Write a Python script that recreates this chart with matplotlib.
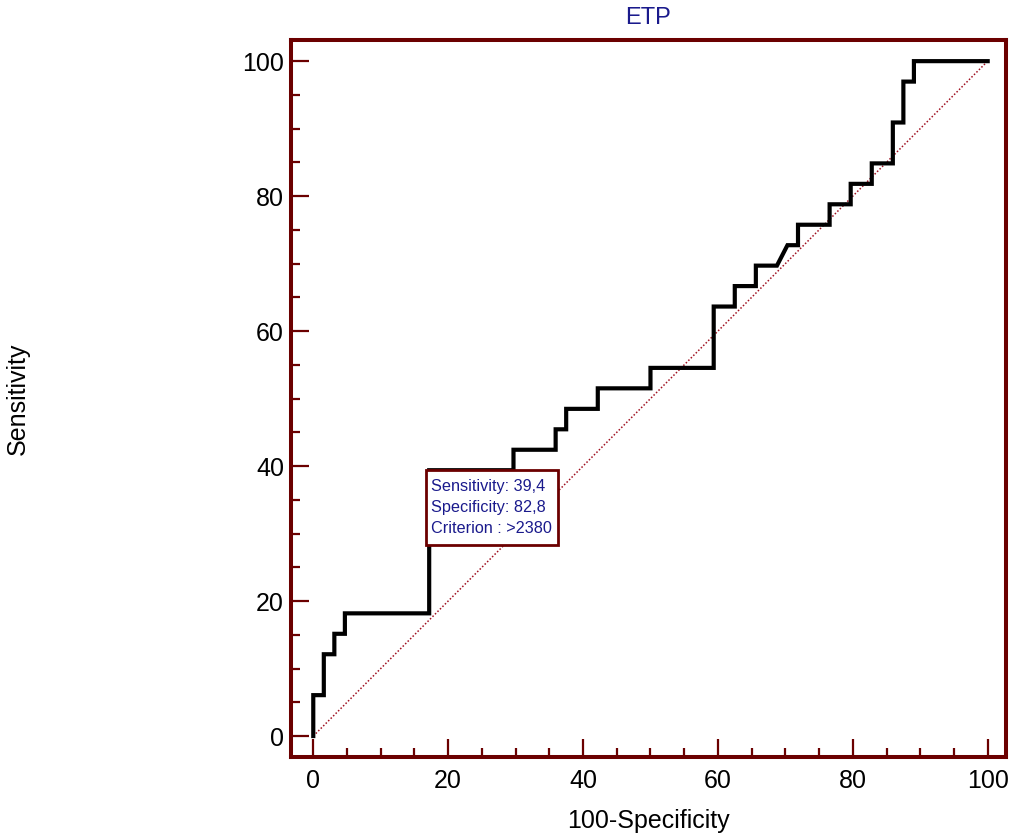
import matplotlib
matplotlib.use("Agg")
import matplotlib.pyplot as plt
from matplotlib.ticker import MultipleLocator
from matplotlib.offsetbox import TextArea, AnnotationBbox, VPacker, DrawingArea

plt.rcParams['font.family'] = ['Liberation Sans', 'DejaVu Sans']

# ROC curve data (100-Specificity, Sensitivity)
roc_x = [0, 0, 1.5625, 1.5625, 3.125, 3.125, 4.6875, 4.6875, 17.1875, 17.1875,
         29.6875, 29.6875, 35.9375, 35.9375, 37.5, 37.5, 42.1875, 42.1875,
         50.0, 50.0, 59.375, 59.375, 62.5, 62.5, 65.625, 65.625, 68.75, 70.3125,
         71.875, 71.875, 76.5625, 76.5625, 79.6875, 79.6875, 82.8125, 82.8125,
         85.9375, 85.9375, 87.5, 87.5, 89.0625, 89.0625, 100]
roc_y = [0, 6.06, 6.06, 12.12, 12.12, 15.15, 15.15, 18.18, 18.18, 39.39,
         39.39, 42.42, 42.42, 45.45, 45.45, 48.48, 48.48, 51.52,
         51.52, 54.55, 54.55, 63.64, 63.64, 66.67, 66.67, 69.70, 69.70, 72.73,
         72.73, 75.76, 75.76, 78.79, 78.79, 81.82, 81.82, 84.85,
         84.85, 90.91, 90.91, 96.97, 96.97, 100, 100]
diag = [0, 100]
crit_point = (17.1875, 39.39)
crit_lines = ["Sensitivity: 39,4", "Specificity: 82,8", "Criterion : >2380"]
title = "ETP"
xlabel = "100-Specificity"
ylabel = "Sensitivity"

maroon = "#6B0000"
navy = "#1A1A8C"

fig = plt.figure(figsize=(10.14, 8.38), dpi=100)
ax = fig.add_axes([0.287, 0.0967, 0.705, 0.8553])

ax.plot(diag, diag, color="#A01020", lw=1.1, linestyle=(0, (1, 1.3)), zorder=2)
ax.plot(roc_x, roc_y, color="black", lw=3.0, solid_joinstyle="miter", zorder=3)

ax.set_xlim(-3.3, 102.7)
ax.set_ylim(-3.1, 103.1)

for s in ax.spines.values():
    s.set_color(maroon)
    s.set_linewidth(2.9)

ax.xaxis.set_major_locator(MultipleLocator(20))
ax.xaxis.set_minor_locator(MultipleLocator(5))
ax.yaxis.set_major_locator(MultipleLocator(20))
ax.yaxis.set_minor_locator(MultipleLocator(5))
ax.tick_params(which="both", direction="in", color=maroon, top=False, right=False,
               labelsize=18, labelcolor="black")
ax.tick_params(which="major", length=13, width=1.6)
ax.tick_params(which="minor", length=6.5, width=1.6)
ax.tick_params(axis="x", which="major", pad=9)
ax.tick_params(axis="y", which="major", pad=5)

ax.set_title(title, color=navy, fontsize=17, pad=12)
ax.set_xlabel(xlabel, fontsize=18)
ax.set_ylabel(ylabel, fontsize=18)
ax.xaxis.set_label_coords(0.5, -0.0725)
ax.yaxis.set_label_coords(-0.365, 0.5)

ta = TextArea("\n".join(crit_lines),
              textprops=dict(color=navy, fontsize=11.7, linespacing=1.5))
packed = VPacker(children=[DrawingArea(1, 3.0), ta, DrawingArea(1, 2.5)],
                 sep=0, pad=0, align="left")
ab = AnnotationBbox(packed, crit_point, xycoords="data",
                    xybox=(1.5, -3.5), boxcoords="offset points",
                    box_alignment=(0, 1), pad=0.4, frameon=True,
                    bboxprops=dict(edgecolor=maroon, facecolor="white", linewidth=2.0))
ab.set_zorder(5)
ax.add_artist(ab)

fig.savefig("out.png", dpi=100)
